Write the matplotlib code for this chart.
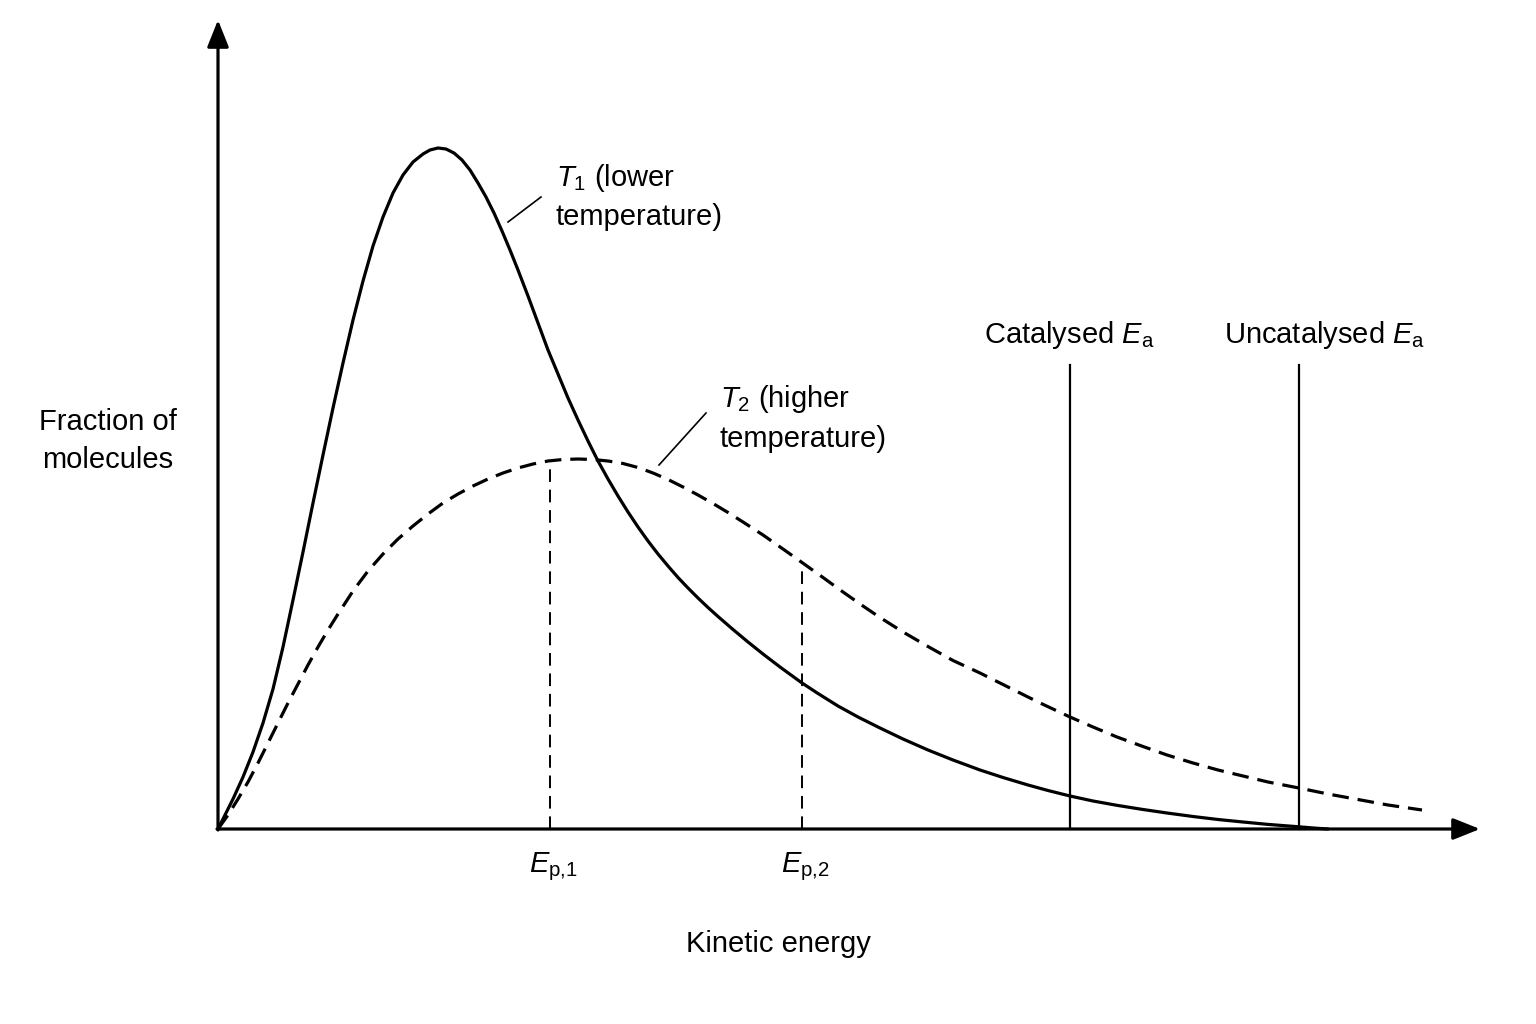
import numpy as np
import matplotlib
matplotlib.use("Agg")
import matplotlib.pyplot as plt
from matplotlib import font_manager

# ---------------- data (arbitrary units) ----------------
# T1 (lower temperature) curve
t1_x = [0, 5, 15, 25, 35, 45, 55, 65, 75, 85, 95, 105, 115, 125, 135, 145, 155, 165,
        175, 185, 195, 205, 212, 220, 228, 236, 244, 252, 260, 268, 276, 284, 292, 300,
        310, 320, 330, 340, 350, 360, 370, 380, 390, 400, 410, 420, 430, 440, 450, 460,
        470, 480, 490, 500, 515, 530, 545, 562, 584, 600, 620, 640, 662, 685, 710, 735,
        762, 785, 810, 830, 852, 875, 900, 925, 949, 975, 1000, 1025, 1050, 1081, 1098, 1110]
t1_y = [0, 10, 30, 52, 77, 106, 140, 182, 229, 277, 326, 374, 421, 466, 509, 548, 583, 612,
        636, 654, 667, 675, 679, 681, 680, 676, 669, 659, 646, 632, 616, 598, 579, 559,
        533, 506, 479, 455, 431, 409, 388, 368, 350, 333, 317, 302, 288, 275, 263, 251.5,
        241, 231, 221.5, 212.5, 199.5, 187, 175, 162, 146, 135.5, 123, 112, 101, 90, 79, 69,
        59, 51.5, 44, 38.5, 33, 28, 23.5, 19.5, 16, 12.5, 9.5, 7, 4.6, 2.2, 0.8, 0]

# T2 (higher temperature) curve
t2_x = [0, 10, 20, 30, 40, 50, 60, 70, 80, 90, 100, 110, 120, 135, 150, 165, 180, 195,
        210, 225, 240, 255, 270, 285, 300, 315, 330, 345, 360, 375, 390, 405, 420, 435,
        450, 465, 480, 495, 510, 525, 545, 565, 584, 605, 625, 645, 662, 685, 710, 735,
        762, 790, 820, 852, 875, 899, 925, 949, 975, 1000, 1025, 1050, 1081, 1110, 1140,
        1170, 1204]
t2_y = [0, 14, 30, 47, 66, 86, 106, 126, 145, 164, 182, 199, 215, 238, 258, 275, 290, 303,
        315, 326, 335, 343, 350, 356, 361, 365, 368, 369.5, 370, 369.5, 368, 365.5, 361.5, 356,
        349.5, 342, 334, 325.5, 316.5, 307, 294, 280, 266.5, 251.5, 237, 223, 211.5, 197, 182.5, 168.5,
        156, 142, 127, 112, 102, 92, 82.5, 74, 66, 59, 53, 47, 41, 35, 29.5,
        24, 19]

# most probable energies and activation energies
ep_pos = [332, 584]
ep_labels = [r"$E_{\mathrm{p{,}1}}$", r"$E_{\mathrm{p{,}2}}$"]
ea_pos = [852, 1081]
ea_top = [464, 464]
ea_labels = [r"Catalysed $E_{\mathrm{a}}$", r"Uncatalysed $E_{\mathrm{a}}$"]

# ---------------- fonts ----------------
names = {f.name for f in font_manager.fontManager.ttflist}
base = "Liberation Sans" if "Liberation Sans" in names else "DejaVu Sans"
plt.rcParams["font.family"] = [base, "DejaVu Sans"]
plt.rcParams["mathtext.fontset"] = "custom"
plt.rcParams["mathtext.rm"] = base
plt.rcParams["mathtext.it"] = base + ":italic"
plt.rcParams["mathtext.bf"] = base + ":bold"
FS = 21

# ---------------- figure ----------------
fig = plt.figure(figsize=(15.36, 10.24), dpi=100, facecolor="white")
ax = fig.add_axes([0, 0, 1, 1])
ax.set_xlim(-218, 1318)
ax.set_ylim(-195, 829)
ax.axis("off")

# axes with arrows
arrow_kw = dict(arrowstyle="-|>,head_length=0.5,head_width=0.2", mutation_scale=33,
                lw=2.3, color="black", shrinkA=0, shrinkB=0)
ax.annotate("", xy=(0, 809), xytext=(0, -1), arrowprops=arrow_kw)
ax.annotate("", xy=(1262, 0), xytext=(-1, 0), arrowprops=arrow_kw)

# curves
ax.plot(t1_x, t1_y, color="black", lw=2.3, solid_joinstyle="round", solid_capstyle="round")
ax.plot(t2_x, t2_y, color="black", lw=2.3, linestyle=(0, (5.2, 2.8)))

# most probable energy markers
for xp, lab in zip(ep_pos, ep_labels):
    top = np.interp(xp, t2_x, t2_y)
    ax.plot([xp, xp], [0, top], color="black", lw=1.4, linestyle=(0, (6.5, 4)))
    ax.text(xp + 3, -43, lab, ha="center", va="baseline", fontsize=FS)

# activation energy lines
for xe, top in zip(ea_pos, ea_top):
    ax.plot([xe, xe], [0, top], color="black", lw=1.6)
ax.text(766, 486, ea_labels[0], ha="left", va="baseline", fontsize=FS)
ax.text(1006, 486, ea_labels[1], ha="left", va="baseline", fontsize=FS)

# curve labels with leader lines
ax.text(338, 643, r"$T_{\mathrm{1}}$ (lower", ha="left", va="baseline", fontsize=FS)
ax.text(338, 604, "temperature)", ha="left", va="baseline", fontsize=FS)
ax.plot([290, 323], [607, 632], color="black", lw=1.2)

ax.text(502, 422, r"$T_{\mathrm{2}}$ (higher", ha="left", va="baseline", fontsize=FS)
ax.text(502, 382, "temperature)", ha="left", va="baseline", fontsize=FS)
ax.plot([441, 488], [364, 416], color="black", lw=1.2)

# axis titles
ax.text(-110, 399, "Fraction of", ha="center", va="baseline", fontsize=FS)
ax.text(-110, 361, "molecules", ha="center", va="baseline", fontsize=FS)
ax.text(560, -123, "Kinetic energy", ha="center", va="baseline", fontsize=FS)

fig.savefig("out.png", dpi=100, facecolor="white")
